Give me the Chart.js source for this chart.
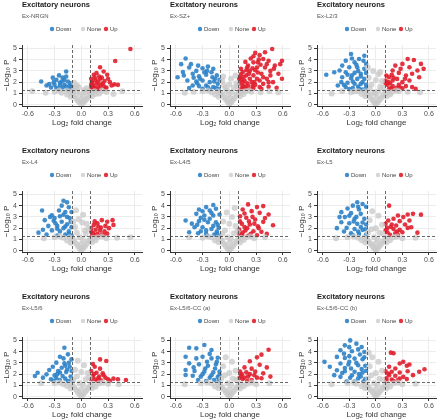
<!DOCTYPE html>
<html>
<head>
<meta charset="utf-8">
<script src="https://cdn.jsdelivr.net/npm/chart.js@4.4.1/dist/chart.umd.min.js"></script>
<style>
  body { margin: 0; background: #fff; }
  #wrap { position: relative; width: 440px; height: 420px; }
  .panel { position: absolute; }
</style>
</head>
<body>
<div id="wrap"></div>
<script>
// Axis ticks and cut-offs
const xTicks = [-0.6, -0.3, 0, 0.3, 0.6];
const yTicks = [0, 1, 2, 3, 4, 5];
const fcCut = 0.1;   // |log2 FC|
const pCut = 1.3;    // -log10(0.05)
const legendLabels = ['Down', 'None', 'Up'];
const panelTitle = 'Excitatory neurons';
const cellTypes = ['Ex-NRGN', 'Ex-SZ+', 'Ex-L2/3', 'Ex-L4', 'Ex-L4/5', 'Ex-L5', 'Ex-L5/6', 'Ex-L5/6-CC (a)', 'Ex-L5/6-CC (b)'];

// [log2FC, -log10 P] per cell type
const nrgnUp = [[0.55,4.94],[0.38,3.88],[0.21,3.32],[0.25,2.94],[0.29,2.65],[0.17,2.8],[0.15,2.4],[0.21,2.3],[0.26,2.1],[0.32,2.0],[0.37,1.8],[0.41,1.76],[0.12,2.06],[0.17,1.9],[0.22,1.76],[0.13,1.7],[0.19,1.62],[0.11,1.53],[0.15,1.47],[0.21,1.41],[0.28,1.53],[0.24,1.9],[0.14,2.65],[0.2,2.5],[0.34,1.7],[0.11,1.76],[0.16,2.2],[0.23,2.4],[0.13,1.38],[0.18,1.35],[0.27,1.4],[0.12,1.95],[0.3,2.3],[0.19,2.05],[0.25,1.65],[0.14,1.6],[0.11,2.3]];
const nrgnDown = [[-0.45,2.06],[-0.17,2.94],[-0.25,2.6],[-0.32,2.4],[-0.28,2.2],[-0.22,2.06],[-0.19,2.2],[-0.15,2.06],[-0.12,1.9],[-0.36,1.82],[-0.3,1.76],[-0.24,1.7],[-0.19,1.76],[-0.13,1.7],[-0.11,1.62],[-0.34,1.53],[-0.28,1.47],[-0.21,1.53],[-0.15,1.41],[-0.11,1.47],[-0.39,1.7],[-0.17,2.5],[-0.21,2.4],[-0.26,1.38],[-0.14,1.35],[-0.24,1.95],[-0.17,1.6],[-0.31,2.0]];
const nrgnNone = [[0,0.05],[0.02,0.15],[-0.02,0.2],[0.04,0.32],[-0.04,0.35],[0.06,0.5],[-0.06,0.55],[0.08,0.7],[-0.08,0.75],[0.1,0.9],[-0.1,0.95],[0.12,1.1],[-0.12,1.15],[0,0.45],[0.02,0.75],[-0.02,0.95],[0.04,1.1],[-0.05,1.2],[0.15,1.2],[-0.16,1.25],[0.2,1.0],[-0.22,1.05],[0.28,1.12],[-0.3,1.15],[0.36,0.95],[-0.4,1.05],[0.46,1.2],[-0.55,1.2],[-0.07,1.45],[-0.05,1.7],[-0.08,1.95],[0.06,1.45],[0.03,1.3],[-0.03,1.55],[0.08,1.2],[-0.09,1.25],[0.16,0.95],[-0.16,0.9],[0.23,1.25],[-0.25,1.25],[0.12,0.75],[-0.12,0.7]];

const szUp = [[0.48,4.94],[0.4,4.65],[0.34,4.4],[0.29,4.6],[0.59,3.9],[0.57,3.6],[0.51,3.47],[0.44,3.9],[0.38,4.05],[0.27,3.76],[0.21,3.47],[0.31,3.3],[0.23,3.0],[0.15,2.9],[0.19,2.6],[0.12,2.44],[0.27,2.6],[0.36,2.74],[0.46,3.0],[0.55,2.74],[0.42,2.3],[0.34,2.15],[0.25,2.0],[0.17,2.15],[0.11,1.85],[0.15,1.7],[0.21,1.65],[0.29,1.76],[0.38,1.85],[0.49,2.0],[0.14,1.47],[0.19,1.41],[0.27,1.47],[0.34,1.56],[0.11,2.3],[0.13,3.18],[0.18,3.8],[0.24,4.1],[0.32,3.76],[0.4,3.3],[0.46,2.6],[0.59,2.3],[0.31,2.3],[0.23,2.3],[0.15,2.0],[0.32,2.85],[0.38,2.44],[0.19,3.06],[0.26,3.24],[0.12,1.38],[0.24,1.35],[0.44,1.6],[0.53,1.5],[0.13,2.7],[0.2,1.9],[0.28,2.0],[0.16,2.45],[0.22,2.75],[0.29,3.05],[0.35,3.55],[0.42,3.6],[0.5,3.2],[0.44,2.0],[0.36,1.4],[0.26,1.65],[0.17,1.58],[0.13,2.2],[0.2,3.3],[0.27,4.3],[0.33,4.0]];
const szDown = [[-0.49,4.1],[-0.54,3.6],[-0.45,3.3],[-0.35,3.47],[-0.3,3.24],[-0.24,3.38],[-0.18,3.18],[-0.58,2.44],[-0.51,2.6],[-0.41,2.74],[-0.34,2.53],[-0.26,2.65],[-0.19,2.44],[-0.14,2.6],[-0.47,2.15],[-0.37,2.06],[-0.3,2.15],[-0.22,2.0],[-0.17,2.06],[-0.13,1.85],[-0.41,1.7],[-0.34,1.65],[-0.26,1.7],[-0.18,1.56],[-0.15,1.47],[-0.45,1.47],[-0.3,1.41],[-0.22,1.35],[-0.37,3.0],[-0.28,2.88],[-0.2,2.88],[-0.12,1.4],[-0.11,2.2],[-0.25,3.0],[-0.33,2.3],[-0.4,2.4],[-0.16,2.3],[-0.24,1.55],[-0.36,1.9],[-0.52,2.9],[-0.43,3.6]];
const szNone = [[0,0.05],[0.02,0.2],[-0.02,0.25],[0.04,0.4],[-0.04,0.45],[0.06,0.6],[-0.06,0.65],[0.08,0.85],[-0.08,0.9],[0.1,1.0],[-0.1,1.05],[0.13,1.15],[-0.13,1.2],[0.01,0.6],[-0.01,0.9],[0.03,1.1],[-0.03,1.25],[0.18,1.2],[-0.2,1.1],[0.25,1.15],[-0.3,1.2],[0.35,1.1],[-0.4,1.15],[0.45,1.2],[0.55,1.1],[-0.5,1.05],[0.05,1.5],[-0.06,1.7],[0.08,1.9],[-0.08,2.1],[0.02,2.3],[-0.04,1.45],[0.07,2.6],[-0.07,2.5],[0.09,1.6],[0,1.8],[0.16,0.95],[-0.16,0.9],[0.22,1.25],[-0.24,1.25],[0.12,0.75],[-0.12,0.7]];

const l23Up = [[0.36,4.06],[0.43,3.97],[0.51,3.62],[0.54,3.18],[0.47,3.03],[0.38,3.32],[0.3,3.62],[0.22,3.47],[0.19,3.03],[0.26,2.82],[0.34,2.59],[0.41,2.74],[0.49,2.44],[0.15,2.44],[0.11,2.15],[0.19,2.15],[0.24,2.29],[0.3,2.0],[0.38,2.15],[0.13,1.76],[0.19,1.65],[0.26,1.76],[0.34,1.65],[0.41,1.56],[0.15,1.41],[0.22,1.35],[0.12,2.59],[0.18,2.65],[0.28,3.18],[0.11,1.9],[0.16,1.9],[0.23,1.5],[0.45,1.4],[0.3,1.45],[0.14,2.0],[0.2,2.4],[0.27,1.55],[0.17,1.45],[0.33,2.3]];
const l23Down = [[-0.56,2.65],[-0.47,2.88],[-0.28,4.5],[-0.13,4.35],[-0.19,4.06],[-0.34,3.91],[-0.24,3.76],[-0.11,3.62],[-0.38,3.47],[-0.3,3.32],[-0.21,3.32],[-0.13,3.18],[-0.41,3.03],[-0.34,2.88],[-0.24,2.82],[-0.17,2.74],[-0.11,2.82],[-0.38,2.44],[-0.28,2.35],[-0.21,2.29],[-0.13,2.29],[-0.39,2.0],[-0.32,1.94],[-0.24,1.85],[-0.17,1.85],[-0.11,1.76],[-0.34,1.56],[-0.26,1.47],[-0.19,1.41],[-0.11,1.47],[-0.43,1.7],[-0.15,2.0],[-0.27,2.6],[-0.2,3.0],[-0.15,1.35],[-0.3,1.38],[-0.22,3.55],[-0.32,2.65],[-0.17,2.5],[-0.26,2.05],[-0.36,1.75],[-0.2,1.6],[-0.14,3.9],[-0.27,4.1]];
const l23None = [[0,0.05],[0.02,0.2],[-0.02,0.2],[0.04,0.38],[-0.04,0.42],[0.06,0.6],[-0.06,0.62],[0.08,0.82],[-0.08,0.85],[0.1,1.0],[-0.1,1.0],[0.13,1.15],[-0.13,1.18],[0.01,0.7],[-0.01,1.0],[0.03,1.2],[-0.03,1.1],[0.18,1.1],[-0.2,1.2],[0.26,1.2],[-0.28,1.1],[0.36,1.15],[-0.38,1.2],[0.5,1.1],[-0.5,1.0],[0.05,1.6],[-0.05,1.8],[0.07,2.1],[-0.08,2.4],[0.03,2.7],[-0.03,3.0],[0.08,1.5],[-0.07,1.45],[0,2.2],[0.05,2.9],[-0.09,3.3],[0.16,0.9],[-0.16,0.95],[0.23,1.25],[-0.24,1.2],[0.12,0.72],[-0.12,0.75]];

const l4Up = [[0.35,2.71],[0.29,2.57],[0.23,2.71],[0.18,2.43],[0.14,2.29],[0.19,2.14],[0.27,2.2],[0.31,2.0],[0.11,2.0],[0.16,1.86],[0.21,1.8],[0.26,1.71],[0.13,1.57],[0.18,1.49],[0.23,1.43],[0.29,1.51],[0.12,1.34],[0.19,1.33],[0.36,2.29],[0.11,1.7],[0.25,1.36],[0.15,2.6],[0.22,2.05],[0.15,1.4]];
const l4Down = [[-0.2,4.43],[-0.16,4.29],[-0.22,4.0],[-0.14,3.86],[-0.25,3.57],[-0.44,3.57],[-0.18,3.43],[-0.11,3.43],[-0.33,3.14],[-0.24,3.06],[-0.16,3.0],[-0.41,2.71],[-0.31,2.66],[-0.22,2.57],[-0.12,2.57],[-0.37,2.2],[-0.27,2.2],[-0.18,2.14],[-0.11,2.09],[-0.43,1.86],[-0.33,1.8],[-0.24,1.71],[-0.14,1.71],[-0.39,1.43],[-0.27,1.34],[-0.18,1.43],[-0.11,1.34],[-0.2,2.0],[-0.29,2.43],[-0.13,2.9],[-0.35,3.0],[-0.48,1.6],[-0.2,3.2],[-0.16,2.35],[-0.27,1.95],[-0.14,1.5],[-0.3,2.9]];
const l4None = [[0,0.05],[0.02,0.2],[-0.02,0.22],[0.04,0.4],[-0.04,0.42],[0.06,0.6],[-0.06,0.64],[0.08,0.85],[-0.08,0.86],[0.1,1.0],[-0.1,1.05],[0.13,1.15],[-0.13,1.2],[0,0.6],[0.02,0.95],[-0.02,1.2],[0.18,1.2],[-0.2,1.15],[0.28,1.1],[-0.3,1.2],[0.4,1.15],[-0.42,1.1],[0.55,1.2],[-0.05,1.6],[0.04,1.8],[-0.07,2.1],[0.06,2.4],[-0.03,2.8],[0.02,3.2],[-0.06,3.6],[0.05,1.5],[-0.09,2.6],[0.08,2.0],[0.01,2.5],[0.16,0.92],[-0.16,0.9],[0.23,1.25],[-0.24,1.25],[0.12,0.74],[-0.12,0.7]];

const l45Up = [[0.21,4.11],[0.31,3.87],[0.38,3.96],[0.15,3.66],[0.25,3.51],[0.34,3.36],[0.44,3.21],[0.12,3.06],[0.19,2.92],[0.29,2.77],[0.38,2.56],[0.49,2.26],[0.14,2.38],[0.23,2.32],[0.32,2.17],[0.11,1.87],[0.18,1.79],[0.27,1.73],[0.36,1.67],[0.14,1.37],[0.21,1.33],[0.31,1.37],[0.42,1.49],[0.12,2.6],[0.22,2.6],[0.17,2.1],[0.26,3.0],[0.11,1.5],[0.24,1.5],[0.17,3.3],[0.28,2.4],[0.2,2.0],[0.33,2.0],[0.15,1.6],[0.4,2.9]];
const l45Down = [[-0.18,4.05],[-0.26,3.87],[-0.34,3.66],[-0.22,3.57],[-0.15,3.72],[-0.37,3.27],[-0.28,3.12],[-0.18,3.12],[-0.11,3.21],[-0.49,2.68],[-0.34,2.62],[-0.24,2.53],[-0.15,2.53],[-0.39,2.08],[-0.3,2.08],[-0.2,1.93],[-0.12,2.02],[-0.45,1.64],[-0.35,1.55],[-0.26,1.49],[-0.17,1.43],[-0.11,1.34],[-0.32,1.73],[-0.22,2.83],[-0.32,2.92],[-0.13,2.3],[-0.42,2.4],[-0.25,1.35],[-0.14,1.7],[-0.2,3.35],[-0.28,2.75],[-0.18,2.2],[-0.26,1.8],[-0.36,2.3],[-0.14,1.5],[-0.3,3.5]];
const l45None = [[0,0.05],[0.02,0.2],[-0.02,0.2],[0.04,0.4],[-0.04,0.4],[0.06,0.62],[-0.06,0.6],[0.08,0.82],[-0.08,0.85],[0.1,1.0],[-0.1,1.02],[0.13,1.15],[-0.13,1.15],[0,0.7],[0.02,1.05],[-0.02,1.2],[0.19,1.2],[-0.2,1.2],[0.28,1.1],[-0.3,1.15],[0.4,1.2],[-0.45,1.2],[0.05,1.55],[-0.05,1.8],[0.07,2.2],[-0.07,2.6],[0.03,3.0],[-0.03,3.4],[0.06,3.8],[-0.08,1.5],[0.09,1.7],[0,2.4],[0.16,0.95],[-0.16,0.9],[0.24,1.25],[-0.24,1.25],[0.12,0.72],[-0.12,0.74]];

const l5Up = [[0.15,4.0],[0.42,3.27],[0.36,3.21],[0.25,3.12],[0.31,2.98],[0.2,2.83],[0.14,2.68],[0.27,2.62],[0.38,2.68],[0.11,2.38],[0.18,2.32],[0.23,2.23],[0.33,2.32],[0.13,2.02],[0.2,1.93],[0.27,1.85],[0.36,2.02],[0.13,1.64],[0.22,1.55],[0.3,1.64],[0.4,2.08],[0.16,1.4],[0.25,1.38],[0.11,1.8],[0.47,1.6],[0.51,3.2],[0.17,2.1],[0.24,1.7]];
const l5Down = [[-0.44,2.0],[-0.21,4.3],[-0.15,4.15],[-0.26,4.0],[-0.11,3.9],[-0.32,3.75],[-0.19,3.65],[-0.39,3.42],[-0.28,3.33],[-0.17,3.27],[-0.35,2.98],[-0.24,2.83],[-0.13,2.83],[-0.39,2.53],[-0.3,2.44],[-0.21,2.38],[-0.11,2.32],[-0.33,2.02],[-0.24,1.93],[-0.15,1.85],[-0.28,1.55],[-0.19,1.49],[-0.11,1.43],[-0.41,2.98],[-0.12,1.9],[-0.36,1.7],[-0.22,3.0],[-0.15,2.5],[-0.26,1.38],[-0.2,3.9],[-0.25,2.6],[-0.17,2.1],[-0.2,1.7],[-0.3,3.1]];
const l5None = [[0,0.05],[0.02,0.2],[-0.02,0.22],[0.04,0.4],[-0.04,0.42],[0.06,0.6],[-0.06,0.62],[0.08,0.82],[-0.08,0.84],[0.1,1.0],[-0.1,1.0],[0.13,1.15],[-0.13,1.15],[0,0.65],[0.02,1.0],[-0.02,1.2],[0.2,1.2],[-0.2,1.15],[0.3,1.1],[-0.32,1.2],[0.45,1.15],[-0.45,1.1],[0.04,1.6],[-0.05,1.9],[0.07,2.3],[-0.07,2.7],[0.03,3.1],[-0.04,3.5],[0.08,1.5],[-0.09,1.6],[0,2.0],[0.16,0.92],[-0.16,0.92],[0.24,1.25],[-0.25,1.25],[0.12,0.72],[-0.12,0.72]];

const l56Up = [[0.21,3.31],[0.28,3.17],[0.15,2.66],[0.21,2.49],[0.11,2.28],[0.17,2.13],[0.24,2.07],[0.13,1.83],[0.2,1.78],[0.27,1.69],[0.36,1.6],[0.15,1.54],[0.22,1.45],[0.3,1.54],[0.5,1.48],[0.41,1.54],[0.11,1.54],[0.13,2.9],[0.18,1.4],[0.25,1.9],[0.32,1.4],[0.14,2.0],[0.19,1.65]];
const l56Down = [[-0.49,2.13],[-0.52,1.83],[-0.19,4.35],[-0.15,3.76],[-0.24,3.55],[-0.11,3.31],[-0.28,3.02],[-0.19,2.96],[-0.32,2.66],[-0.22,2.57],[-0.13,2.66],[-0.36,2.37],[-0.26,2.28],[-0.17,2.19],[-0.11,2.28],[-0.39,1.98],[-0.3,1.89],[-0.21,1.83],[-0.12,1.78],[-0.34,1.54],[-0.24,1.48],[-0.15,1.39],[-0.11,1.45],[-0.43,1.69],[-0.2,3.4],[-0.27,2.0],[-0.16,2.4],[-0.31,1.4],[-0.18,2.75],[-0.24,2.15],[-0.18,1.6],[-0.14,3.0],[-0.28,1.65]];
const l56None = [[0,0.05],[0.02,0.2],[-0.02,0.22],[0.04,0.4],[-0.04,0.42],[0.06,0.6],[-0.06,0.62],[0.08,0.8],[-0.08,0.84],[0.1,1.0],[-0.1,1.0],[0.13,1.15],[-0.13,1.15],[0,0.65],[0.02,1.05],[-0.02,1.2],[0.2,1.2],[-0.2,1.1],[0.3,1.15],[-0.3,1.2],[0.42,1.1],[-0.45,1.2],[0.05,1.55],[-0.05,1.8],[0.07,2.1],[-0.07,2.4],[0.03,2.8],[-0.04,3.2],[-0.09,1.5],[0.09,1.7],[0,2.2],[0.16,0.9],[-0.16,0.95],[0.24,1.25],[-0.24,1.25],[0.12,0.74],[-0.12,0.72]];

const ccaUp = [[0.44,4.17],[0.36,3.73],[0.31,3.49],[0.23,3.14],[0.34,2.84],[0.42,2.6],[0.17,2.6],[0.25,2.49],[0.12,2.22],[0.19,2.16],[0.29,2.22],[0.38,2.07],[0.13,1.86],[0.21,1.78],[0.31,1.69],[0.46,1.78],[0.15,1.57],[0.25,1.48],[0.36,1.63],[0.11,1.63],[0.2,1.38],[0.14,2.0],[0.28,1.9],[0.17,1.7],[0.23,2.0]];
const ccaDown = [[-0.28,4.59],[-0.37,4.29],[-0.45,4.35],[-0.2,4.14],[-0.49,3.55],[-0.37,3.4],[-0.3,3.55],[-0.2,3.4],[-0.13,3.46],[-0.45,2.96],[-0.34,2.87],[-0.24,2.75],[-0.15,2.87],[-0.49,2.37],[-0.39,2.28],[-0.28,2.22],[-0.18,2.16],[-0.11,2.22],[-0.41,1.86],[-0.32,1.78],[-0.22,1.69],[-0.13,1.75],[-0.35,1.48],[-0.26,1.39],[-0.17,1.48],[-0.49,1.92],[-0.11,1.92],[-0.25,3.1],[-0.16,2.5],[-0.12,1.4],[-0.3,2.0],[-0.22,3.8],[-0.27,2.5],[-0.2,1.9],[-0.4,2.6],[-0.14,3.1]];
const ccaNone = [[0,0.05],[0.02,0.2],[-0.02,0.22],[0.04,0.4],[-0.04,0.42],[0.06,0.6],[-0.06,0.62],[0.08,0.82],[-0.08,0.84],[0.1,1.0],[-0.1,1.0],[0.13,1.15],[-0.13,1.15],[0,0.65],[0.02,1.05],[-0.02,1.2],[0.2,1.15],[-0.2,1.2],[0.3,1.1],[-0.32,1.2],[0.45,1.2],[-0.5,1.1],[0.04,1.6],[-0.05,1.9],[0.07,2.3],[-0.07,2.7],[0.03,3.1],[-0.04,3.5],[0.08,1.5],[-0.09,1.6],[0,2.1],[0.16,0.92],[-0.16,0.9],[0.25,1.25],[-0.25,1.25],[0.12,0.72],[-0.12,0.74]];

const ccbUp = [[0.17,3.91],[0.2,3.85],[0.27,2.94],[0.31,3.09],[0.35,2.74],[0.38,2.85],[0.15,2.65],[0.22,2.5],[0.11,2.26],[0.18,2.21],[0.27,2.15],[0.36,2.26],[0.55,2.44],[0.49,2.21],[0.15,1.91],[0.22,1.85],[0.31,1.76],[0.42,1.91],[0.12,1.62],[0.18,1.53],[0.25,1.47],[0.35,1.56],[0.12,1.4],[0.2,1.38],[0.14,2.05],[0.27,1.6]];
const ccbDown = [[-0.58,3.09],[-0.52,2.65],[-0.29,5.0],[-0.22,4.71],[-0.35,4.56],[-0.16,4.41],[-0.4,4.12],[-0.27,4.03],[-0.13,3.97],[-0.44,3.53],[-0.35,3.44],[-0.24,3.38],[-0.15,3.32],[-0.4,2.94],[-0.31,2.85],[-0.2,2.79],[-0.12,2.74],[-0.44,2.35],[-0.35,2.26],[-0.24,2.21],[-0.15,2.15],[-0.4,1.76],[-0.29,1.68],[-0.2,1.62],[-0.12,1.56],[-0.33,1.35],[-0.24,1.35],[-0.47,1.91],[-0.36,3.82],[-0.18,3.74],[-0.28,2.5],[-0.19,2.0],[-0.3,3.1],[-0.11,2.3],[-0.14,1.35],[-0.2,4.2],[-0.3,3.6],[-0.22,3.0],[-0.35,2.55],[-0.16,2.45],[-0.27,1.9],[-0.17,1.8],[-0.38,2.1],[-0.13,3.5],[-0.3,4.4]];
const ccbNone = [[0,0.05],[0.02,0.2],[-0.02,0.22],[0.04,0.4],[-0.04,0.42],[0.06,0.6],[-0.06,0.62],[0.08,0.82],[-0.08,0.84],[0.1,1.0],[-0.1,1.0],[0.13,1.15],[-0.13,1.15],[0,0.65],[0.02,1.05],[-0.02,1.2],[0.2,1.2],[-0.22,1.15],[0.3,1.1],[-0.32,1.2],[0.45,1.15],[-0.5,1.1],[0.04,1.6],[-0.05,1.9],[0.07,2.3],[-0.07,2.7],[0.03,3.1],[-0.04,3.5],[0.08,1.5],[-0.09,1.6],[0,2.1],[-0.08,3.9],[0.16,0.9],[-0.16,0.92],[0.25,1.25],[-0.25,1.25],[0.12,0.72],[-0.12,0.74]];

const upSets = [nrgnUp, szUp, l23Up, l4Up, l45Up, l5Up, l56Up, ccaUp, ccbUp];
const downSets = [nrgnDown, szDown, l23Down, l4Down, l45Down, l5Down, l56Down, ccaDown, ccbDown];
const noneSets = [nrgnNone, szNone, l23None, l4None, l45None, l5None, l56None, ccaNone, ccbNone];

const FONT = 'Liberation Sans, Arial, Helvetica, sans-serif';
const colDown = 'rgba(45,130,200,0.9)';
const colNone = 'rgba(200,200,200,0.75)';
const colUp = 'rgba(225,30,45,0.9)';

// title, subtitle, legend and dashed cut-off lines
const decor = {
  id: 'decor',
  afterDatasetsDraw(chart) {
    const {ctx, chartArea: a, scales: {x, y}} = chart;
    ctx.save();
    ctx.beginPath();
    ctx.rect(a.left, a.top, a.right - a.left, a.bottom - a.top);
    ctx.clip();
    ctx.setLineDash([3, 2]);
    ctx.strokeStyle = '#444';
    ctx.lineWidth = 0.8;
    [-fcCut, fcCut].forEach(v => {
      const px = Math.round(x.getPixelForValue(v)) + 0.5;
      ctx.beginPath(); ctx.moveTo(px, a.top); ctx.lineTo(px, a.bottom); ctx.stroke();
    });
    const py = Math.round(y.getPixelForValue(pCut)) + 0.5;
    ctx.beginPath(); ctx.moveTo(a.left, py); ctx.lineTo(a.right, py); ctx.stroke();
    ctx.restore();
  },
  afterDraw(chart) {
    const {ctx, chartArea: a} = chart;
    const name = chart.options.plugins.decor.name;
    ctx.save();
    ctx.textBaseline = 'middle';
    ctx.textAlign = 'left';
    ctx.fillStyle = '#1a1a1a';
    ctx.font = 'bold 7.5px ' + FONT;
    ctx.fillText(panelTitle, a.left, 5);
    ctx.fillStyle = '#555';
    ctx.font = '6px ' + FONT;
    ctx.fillText(name, a.left, 16);
    // legend
    const cols = [colDown, colNone, colUp];
    const dots = [30, 61, 84];
    legendLabels.forEach((lab, i) => {
      ctx.fillStyle = cols[i];
      ctx.beginPath();
      ctx.arc(a.left + dots[i], 29, 2.2, 0, Math.PI * 2);
      ctx.fill();
      ctx.fillStyle = '#444';
      ctx.fillText(lab, a.left + dots[i] + 4, 29.5);
    });
    ctx.restore();
  }
};

const toPts = arr => arr.map(([x, y]) => ({x, y}));
const lefts = [0, 148, 295];
const tops = [0, 146, 292];
const wrap = document.getElementById('wrap');

cellTypes.forEach((name, i) => {
  const c = document.createElement('canvas');
  const w = i % 3 === 2 ? 145 : 146;
  c.width = w; c.height = 128;
  c.className = 'panel';
  c.style.left = lefts[i % 3] + 'px';
  c.style.top = tops[Math.floor(i / 3)] + 'px';
  c.style.width = w + 'px'; c.style.height = '128px';
  wrap.appendChild(c);

  new Chart(c, {
    type: 'scatter',
    data: {
      datasets: [
        {label: 'None', data: toPts(noneSets[i]), backgroundColor: colNone, pointRadius: 3, borderWidth: 0},
        {label: 'Down', data: toPts(downSets[i]), backgroundColor: colDown, pointRadius: 2.3, borderWidth: 0},
        {label: 'Up', data: toPts(upSets[i]), backgroundColor: colUp, pointRadius: 2.3, borderWidth: 0}
      ]
    },
    options: {
      responsive: false,
      animation: false,
      events: [],
      layout: {padding: {top: 45, right: w - 142, left: 0, bottom: 0}},
      plugins: {
        legend: {display: false},
        tooltip: {enabled: false},
        decor: {name: name}
      },
      scales: {
        x: {
          type: 'linear', min: -0.665, max: 0.68,
          afterBuildTicks: s => { s.ticks = xTicks.map(v => ({value: v})); },
          afterFit: s => { s.height = 22; },
          ticks: {callback: v => v.toFixed(1), font: {size: 7, family: FONT}, color: '#4d4d4d', padding: 1, maxRotation: 0},
          grid: {color: '#ececec', tickColor: '#333', tickLength: 3},
          border: {color: '#333', width: 1},
          title: {display: true, text: 'Log₂ fold change', font: {size: 8, family: FONT}, color: '#333', padding: 0}
        },
        y: {
          min: -0.12, max: 5.3,
          afterBuildTicks: s => { s.ticks = yTicks.map(v => ({value: v})); },
          afterFit: s => { s.width = 22; },
          ticks: {font: {size: 7, family: FONT}, color: '#4d4d4d', padding: 2},
          grid: {color: '#ececec', tickColor: '#333', tickLength: 3},
          border: {color: '#333', width: 1},
          title: {display: true, text: '−Log₁₀ P', font: {size: 8, family: FONT}, color: '#333', padding: {top: 2, bottom: 0}}
        }
      }
    },
    plugins: [decor]
  });
});
</script>
</body>
</html>
